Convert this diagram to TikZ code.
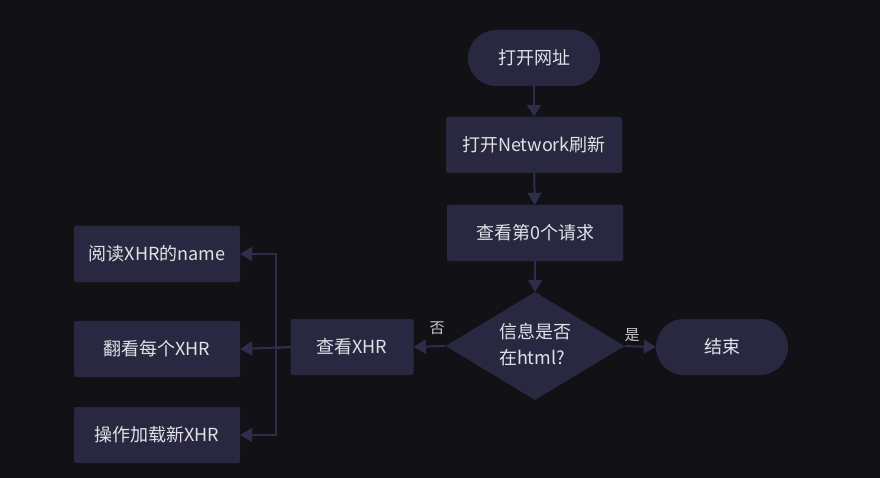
\documentclass[tikz,border=0pt]{standalone}
\usepackage{fontspec}
\setmainfont{Noto Sans CJK SC}
\usetikzlibrary{shapes.geometric,arrows.meta}
\definecolor{bg}{HTML}{121116}
\definecolor{nodefill}{HTML}{2A2740}
\definecolor{linec}{HTML}{302D4C}
\definecolor{txt}{HTML}{E2E2E6}
\definecolor{lbl}{HTML}{C8C8CC}
\tikzset{
  base/.style={fill=nodefill, draw=none, text=txt, font=\fontsize{18}{26}\selectfont, inner sep=0pt},
  boxnode/.style={base, rectangle, rounded corners=2pt, minimum height=56pt},
  termnode/.style={base, rectangle, rounded corners=28pt, minimum width=132pt, minimum height=56pt},
  decnode/.style={base, diamond, aspect=1.66, minimum width=179pt, minimum height=108pt},
  conn/.style={draw=linec, line width=2pt, -{Triangle[length=12pt,width=14pt]}},
  plain/.style={draw=linec, line width=2pt},
  lab/.style={text=lbl, font=\fontsize{15}{17}\selectfont, inner sep=0pt}
}
\begin{document}
\begin{tikzpicture}[x=1pt,y=-1pt]
\fill[bg] (0,0) rectangle (880,478);
\useasboundingbox (0,0) rectangle (880,478);
\node[termnode] (start) at (534,58) {打开网址};
\node[boxnode, minimum width=176pt] (net) at (534,145) {打开Network刷新};
\node[boxnode, minimum width=176pt] (req) at (535,233) {查看第0个请求};
\node[decnode] (dec) at (535,346) {\begin{tabular}{@{}l@{}}信息是否\\在html?\end{tabular}};
\node[termnode] (end) at (722,347) {结束};
\node[boxnode, minimum width=123pt] (xhr) at (352,347) {查看XHR};
\node[boxnode, minimum width=166pt] (b1) at (157,254) {阅读XHR的name};
\node[boxnode, minimum width=166pt] (b2) at (157,349) {翻看每个XHR};
\node[boxnode, minimum width=166pt] (b3) at (157,435) {操作加载新XHR};
\coordinate (trunk) at (276,348);
\draw[conn] (start) -- (net);
\draw[conn] (net) -- (req);
\draw[conn] (req) -- (dec);
\draw[conn] (dec.east) -- (end.west);
\draw[conn] (dec.west) -- (xhr.east);
\draw[plain] (xhr.west) -- (trunk);
\draw[conn] (trunk) |- (b1.east);
\draw[conn] (xhr.west) -- (b2.east);
\draw[conn] (trunk) |- (b3.east);
\node[lab] (no) at (437,328) {否};
\node[lab] (yes) at (632,335) {是};
\end{tikzpicture}
\end{document}
